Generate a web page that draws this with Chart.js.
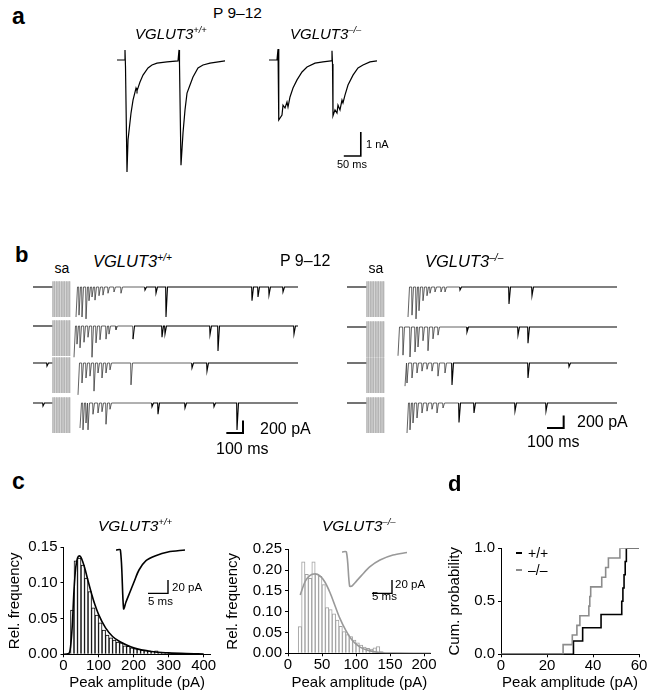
<!DOCTYPE html>
<html>
<head>
<meta charset="utf-8">
<title>VGLUT3 EPSCs</title>
<script src="https://cdn.jsdelivr.net/npm/chart.js@4.4.1/dist/chart.umd.min.js"></script>
<style>
  html, body { margin: 0; padding: 0; background: #fff; }
  #fig { position: relative; width: 652px; height: 699px; overflow: hidden;
         font-family: "Liberation Sans", Arial, Helvetica, sans-serif; color: #000; }
  #fig canvas { position: absolute; }
  .lbl { position: absolute; white-space: nowrap; line-height: 1; }
  .lbl sup { font-size: 62%; vertical-align: 0.6em; line-height: 0; }
  .key { position: absolute; width: 6px; height: 2px; }
</style>
</head>
<body>
<div id="fig">
  <canvas id="aWT" width="122" height="140" style="left:110px;top:40px"></canvas>
  <canvas id="aKO" width="130" height="140" style="left:262px;top:40px"></canvas>

  <canvas id="bWT1" width="276" height="44" style="left:28px;top:278px"></canvas>
  <canvas id="bWT2" width="276" height="44" style="left:28px;top:317px"></canvas>
  <canvas id="bWT3" width="276" height="44" style="left:28px;top:354px"></canvas>
  <canvas id="bWT4" width="276" height="44" style="left:28px;top:394px"></canvas>
  <canvas id="bKO1" width="282" height="44" style="left:342px;top:278px"></canvas>
  <canvas id="bKO2" width="282" height="44" style="left:342px;top:318px"></canvas>
  <canvas id="bKO3" width="282" height="44" style="left:342px;top:354px"></canvas>
  <canvas id="bKO4" width="282" height="44" style="left:342px;top:394px"></canvas>

  <canvas id="cWT" width="220" height="199" style="left:0px;top:500px"></canvas>
  <canvas id="cKO" width="222" height="199" style="left:220px;top:500px"></canvas>
  <canvas id="insWT" width="100" height="75" style="left:110px;top:540px"></canvas>
  <canvas id="insKO" width="100" height="75" style="left:336px;top:540px"></canvas>
  <canvas id="dCum" width="212" height="199" style="left:440px;top:500px"></canvas>
</div>
<script>
// ---------- data ----------
// panel a: evoked EPSC pairs, [time ms, current nA]
const evokedWT = [[0,0],[20.6,0],[23.5,0.42],[25,-0.29],[29.4,-4.67],[32.4,-3.33],[41.2,-2.21],[47.1,-1.67],
  [55.9,-1.17],[58.8,-1.29],[67.6,-0.92],[76.5,-0.63],[91.2,-0.33],[102.9,-0.21],[117.6,-0.13],[147,-0.08],
  [179.4,-0.04],[182.4,0.42],[183.8,-0.17],[188.2,-4.38],[194.1,-3.04],[200,-2.08],[205.9,-1.38],[214.7,-1.04],
  [223.5,-0.71],[238.2,-0.33],[252.9,-0.21],[273.5,-0.13],[317.6,-0.04]];
const evokedKO = [[0,0],[23.5,0],[26.5,0.46],[28,-0.2],[29.4,-2.5],[38.2,-2.29],[41.2,-1.88],[47.1,-2.0],
  [52.9,-1.75],[55.9,-1.96],[61.8,-1.54],[70.6,-1.17],[82.4,-0.83],[97.1,-0.5],[111.8,-0.29],[135.3,-0.13],
  [158.8,-0.08],[182.4,-0.04],[185.3,0.38],[186.8,-0.17],[188.2,-2.33],[194.1,-2.08],[200,-2.21],[202.9,-1.88],
  [208.8,-2.08],[214.7,-1.67],[217.6,-1.79],[223.5,-1.46],[232.4,-1.04],[247.1,-0.63],[261.8,-0.33],
  [276.5,-0.21],[297,-0.08],[317.6,-0.04]];

// panel b: stimulus artifact times (ms) and spontaneous events per sweep, [time ms, amplitude pA]
const stimTimes = [120, 130, 140, 150, 160, 170, 180, 190, 200, 210, 220];
const wtRow1 = [[258,-480],[276,-450],[294,-480],[318,-510],[336,-220],[354,-160],[372,-210],[396,-140],[420,-130],
  [450,-100],[486,-80],[528,-100],[672,-50],[738,-100],[798,-480],[1314,-220],[1350,-160],[1416,-130],[1500,-80]];
const wtRow2 = [[246,-500],[264,-290],[282,-350],[306,-260],[330,-180],[354,-500],[378,-270],[402,-220],[438,-210],
  [456,-130],[498,-60],[600,-210],[774,-180],[792,-130],[1062,-140],[1110,-400],[1566,-130]];
const wtRow3 = [[84,-50],[270,-510],[294,-320],[318,-240],[342,-210],[366,-450],[390,-160],[414,-240],[438,-160],
  [462,-110],[588,-350],[954,-80],[1044,-130]];
const wtRow4 = [[60,-50],[282,-400],[300,-430],[318,-320],[330,-430],[360,-180],[390,-160],[414,-140],[438,-340],
  [462,-100],[714,-60],[750,-180],[912,-80],[1086,-60],[1224,-430]];
const koRow1 = [[366,-480],[390,-450],[414,-510],[432,-380],[456,-220],[480,-140],[498,-100],[528,-80],[564,-80],
  [588,-80],[678,-50],[972,-270],[1110,-140]];
const koRow2 = [[306,-460],[336,-450],[378,-480],[408,-400],[426,-320],[456,-220],[486,-380],[516,-190],[546,-130],
  [720,-80],[1026,-130],[1086,-260]];
const koRow3 = [[348,-370],[360,-320],[390,-240],[420,-160],[450,-130],[480,-100],[510,-130],[546,-210],[588,-160],
  [630,-350],[1086,-240],[1332,-60]];
const koRow4 = [[360,-480],[378,-430],[396,-320],[420,-240],[450,-160],[480,-130],[510,-100],[540,-160],[576,-80],
  [672,-310],[762,-160],[1008,-130],[1194,-130]];
const sweepEndWT = 1590;
const sweepEndKO = 1620;

// panel c: amplitude histograms (pA bin centres, relative frequency) and fits
const binsWT = [25,35,45,55,65,75,85,95,105,115,125,135,145,155,165,175,185,195,205,215,225,235,245,255,265,
  275,285,295,305,315,325];
const freqWT = [0.062,0.131,0.135,0.125,0.107,0.088,0.065,0.055,0.044,0.034,0.027,0.023,0.020,0.017,0.016,0.012,
  0.011,0.009,0.008,0.007,0.006,0.006,0.005,0.004,0.005,0.003,0.002,0.002,0.001,0.001,0.001];
const fitWT = [[0,0],[15,0.001],[20,0.01],[25,0.04],[30,0.09],[35,0.122],[40,0.135],[45,0.138],[50,0.136],
  [60,0.122],[70,0.103],[80,0.085],[90,0.069],[100,0.056],[120,0.037],[140,0.025],[160,0.018],[180,0.013],
  [200,0.009],[250,0.004],[300,0.002],[350,0.001],[400,0.0005]];
const binsKO = [17.5,22.5,27.5,32.5,37.5,42.5,47.5,52.5,57.5,62.5,67.5,72.5,77.5,82.5,87.5,92.5,97.5,102.5,107.5,
  112.5,117.5,122.5,127.5,132.5,137.5];
const freqKO = [0.064,0.22,0.19,0.18,0.22,0.19,0.185,0.165,0.11,0.105,0.095,0.08,0.065,0.052,0.045,0.04,0.032,
  0.025,0.02,0.015,0.012,0.01,0.013,0.016,0.004];
const fitKO = [[18,0.14],[25,0.172],[32,0.187],[40,0.191],[47,0.186],[54,0.172],[62,0.145],[69,0.115],[76,0.085],
  [85,0.055],[95,0.03],[106,0.015],[118,0.007],[135,0.002],[160,0.0005],[210,0]];
// averaged mEPSC insets, [time ms, current pA]
const insetWT = [[0,0],[1.1,0],[1.9,-88],[2.5,-78],[3.5,-63],[4.5,-48],[5.75,-30],[7.5,-16],[9.75,-9],[13,-3],[17.25,0]];
const insetKO = [[0,0],[1.1,0],[1.9,-51],[2.5,-51],[3.25,-46],[4.9,-35],[7,-22],[9.5,-12],[12.75,-4.5],[16.25,-0.75]];

// panel d: mean peak amplitude per cell (pA)
const cellAmpWT = [31.5, 35.5, 43.5, 52.5, 53, 53.5, 54, 54.5];
const cellAmpKO = [27, 31, 33, 34.3, 38.2, 38.6, 39, 43.8, 45.5, 46.7, 51.7];

// tick labels
const ticksWTx = [0, 100, 200, 300, 400];
const ticksWTy = [0, 0.05, 0.10, 0.15];
const ticksKOx = [0, 50, 100, 150, 200];
const ticksKOy = [0, 0.05, 0.10, 0.15, 0.20, 0.25];
const ticksDx = [0, 20, 40, 60];
const ticksDy = [0, 0.5, 1.0];

// ---------- helpers ----------
const FONT = '"Liberation Sans", Arial, Helvetica, sans-serif';
const GREY = '#999999';
Chart.defaults.font.family = FONT;
Chart.defaults.color = '#000';

const pts = arr => arr.map(([x, y]) => ({ x, y }));

function line(data, color, width, extra) {
  return Object.assign({ type: 'line', data, borderColor: color, borderWidth: width, pointRadius: 0,
    tension: 0, spanGaps: false, fill: false }, extra || {});
}

// scale bar as an L: horizontal [t0,t1] at y0, vertical at t1 from y0 to y1
function scaleBar(t0, t1, y0, y1, width) {
  return line([{ x: t0, y: y0 }, { x: t1, y: y0 }, { x: t1, y: y1 }], '#000', width);
}

function traceChart(id, datasets, xr, yr) {
  return new Chart(document.getElementById(id), {
    type: 'line',
    data: { datasets },
    options: {
      responsive: false, animation: false, events: [],
      layout: { padding: 0 },
      plugins: { legend: { display: false }, tooltip: { enabled: false } },
      scales: {
        x: { type: 'linear', display: false, min: xr[0], max: xr[1] },
        y: { type: 'linear', display: false, min: yr[0], max: yr[1] }
      }
    }
  });
}

function buildSweep(events, tEnd) {
  const out = [{ x: 0, y: 0 }];
  const pre = events.filter(e => e[0] < stimTimes[0]);
  const post = events.filter(e => e[0] > stimTimes[stimTimes.length - 1]);
  pre.forEach(([t, a]) => out.push({ x: t - 2, y: 0 }, { x: t, y: a }, { x: t + 9, y: 0 }));
  out.push({ x: stimTimes[0], y: 0 }, { x: stimTimes[0], y: null });
  post.forEach(([t, a], i) => {
    const next = i + 1 < post.length ? post[i + 1][0] : tEnd;
    if (i > 0) out.push({ x: t - 2, y: 0 });
    out.push({ x: t, y: a }, { x: Math.min(t + 9, next - 3), y: 0 });
  });
  out.push({ x: tEnd, y: 0 });
  return out;
}

function stimLines(top, bottom) {
  const out = [];
  stimTimes.forEach(t => out.push({ x: t, y: top }, { x: t, y: bottom }, { x: t, y: null }));
  return out;
}

// sweep drawn darker on the baseline, lighter inside the post-stimulus burst
function sweepSet(data) {
  return line(data, '#000', 1.1, {
    segment: { borderColor: c => (c.p0.parsed.x < 600 && c.p0.parsed.x > 220) ? '#3a3a3a' : undefined,
               borderWidth: c => (c.p0.parsed.x < 600 && c.p0.parsed.x > 220) ? 0.8 : undefined }
  });
}

function axis(o) {
  return {
    type: 'linear', min: o.min, max: o.max, offset: false,
    afterBuildTicks: s => { s.ticks = o.ticks.map(v => ({ value: v })); },
    afterFit: s => { if (o.isX) s.height = o.size; else s.width = o.size; },
    ticks: { font: { family: FONT, size: 15 }, color: '#000', padding: o.isX ? 0 : 3,
             maxRotation: 0, autoSkip: false, callback: o.fmt },
    grid: { display: true, drawOnChartArea: false, drawTicks: true, tickLength: 3, color: '#000', offset: false },
    border: { display: true, color: '#000', width: 1 },
    title: { display: true, text: o.title, font: { family: FONT, size: 15 }, color: '#000',
             padding: o.isX ? { top: 0, bottom: 7 } : { top: o.titlePad, bottom: 0 } }
  };
}

function axisChart(id, type, datasets, pad, xAxis, yAxis) {
  return new Chart(document.getElementById(id), {
    type,
    data: { datasets },
    options: {
      responsive: false, animation: false, events: [],
      layout: { padding: { top: pad.top, right: pad.right, left: 0, bottom: 0 } },
      plugins: { legend: { display: false }, tooltip: { enabled: false } },
      scales: { x: xAxis, y: yAxis }
    }
  });
}

// ---------- panel a ----------
traceChart('aWT', [line(pts(evokedWT), '#000', 1.2)], [-20.6, 338.2], [-5.0, 0.833]);
traceChart('aKO', [line(pts(evokedKO), '#000', 1.2), scaleBar(220, 270, -4, -3, 1.6)], [-20.6, 361.8], [-5.0, 0.833]);

// ---------- panel b ----------
const bY = [-560, 144];
[[wtRow1, 'bWT1'], [wtRow2, 'bWT2'], [wtRow3, 'bWT3'], [wtRow4, 'bWT4']].forEach(([ev, id], i) => {
  const ds = [line(stimLines(90, -480), '#b4b4b4', 0.8), sweepSet(buildSweep(ev, sweepEndWT))];
  if (i === 3) ds.push(scaleBar(1160, 1260, -480, -280, 2));
  traceChart(id, ds, [-30, 1626], bY);
});
[[koRow1, 'bKO1'], [koRow2, 'bKO2'], [koRow3, 'bKO3'], [koRow4, 'bKO4']].forEach(([ev, id], i) => {
  const ds = [line(stimLines(90, -480), '#b4b4b4', 0.8), sweepSet(buildSweep(ev, sweepEndKO))];
  if (i === 3) ds.push(scaleBar(1200, 1300, -400, -200, 2));
  traceChart(id, ds, [-30, 1662], bY);
});

// ---------- panel c ----------
function histSets(bins, freq, fit, color, barColor) {
  return [
    line(pts(fit), color, 1.6, { order: 0, cubicInterpolationMode: 'monotone' }),
    { type: 'bar', order: 1, data: bins.map((b, i) => ({ x: b, y: freq[i] })),
      backgroundColor: '#fff', borderColor: barColor, borderWidth: 1,
      barPercentage: 1, categoryPercentage: 1 }
  ];
}
axisChart('cWT', 'bar', histSets(binsWT, freqWT, fitWT, '#000', '#000'),
  { top: 47.3, right: 9.3 },
  axis({ isX: true, min: 0, max: 420, ticks: ticksWTx, size: 44.7, title: 'Peak amplitude (pA)', fmt: v => String(v) }),
  axis({ min: 0, max: 0.15, ticks: ticksWTy, size: 63.5, title: 'Rel. frequency', titlePad: 6, fmt: v => v.toFixed(2) }));
axisChart('cKO', 'bar', histSets(binsKO, freqKO, fitKO, GREY, '#a0a0a0'),
  { top: 49.3, right: 11.2 },
  axis({ isX: true, min: 0, max: 210, ticks: ticksKOx, size: 45.7, title: 'Peak amplitude (pA)', fmt: v => String(v) }),
  axis({ min: 0, max: 0.25, ticks: ticksKOy, size: 68, title: 'Rel. frequency', titlePad: 4, fmt: v => v.toFixed(2) }));

traceChart('insWT', [line(pts(insetWT), '#000', 1.6, { tension: 0.3 }), scaleBar(8, 13, -65, -45, 1.4)],
  [-1.5, 23.5], [-97.5, 15]);
traceChart('insKO', [line(pts(insetKO), GREY, 1.6, { tension: 0.3 }), scaleBar(7.5, 12.5, -62, -42, 1.4)],
  [-1.5, 23.5], [-94.5, 18]);

// ---------- panel d ----------
function cumulative(vals, xMax) {
  const s = vals.slice().sort((a, b) => a - b);
  const out = [{ x: 0, y: 0 }];
  s.forEach((v, i) => out.push({ x: v, y: (i + 1) / s.length }));
  out.push({ x: xMax, y: 1 });
  return out;
}
axisChart('dCum', 'line', [
    line(cumulative(cellAmpWT, 60), '#000', 1.6, { stepped: 'before', order: 1 }),
    line(cumulative(cellAmpKO, 60), '#8c8c8c', 1.6, { stepped: 'before', order: 0 })
  ],
  { top: 48.3, right: 13 },
  axis({ isX: true, min: 0, max: 60, ticks: ticksDx, size: 44.7, title: 'Peak amplitude (pA)', fmt: v => String(v) }),
  axis({ min: 0, max: 1, ticks: ticksDy, size: 61, title: 'Cum. probability', titlePad: 6, fmt: v => v.toFixed(1) }));

// ---------- text ----------
const fig = document.getElementById('fig');
function label(html, x, base, size, o) {
  o = o || {};
  const d = document.createElement('div');
  d.className = 'lbl';
  d.innerHTML = html;
  d.style.fontSize = size + 'px';
  d.style.left = x + 'px';
  d.style.top = (base - 0.85 * size) + 'px';
  if (o.bold) d.style.fontWeight = 'bold';
  if (o.italic) d.style.fontStyle = 'italic';
  if (o.center) d.style.transform = 'translateX(-50%)';
  fig.appendChild(d);
}
const WT = 'VGLUT3<sup>+/+</sup>';
const KO = 'VGLUT3<sup>–/–</sup>';

label('a', 12, 25, 23, { bold: true });
label('P 9–12', 237.5, 18, 15.5, { center: true });
label(WT, 135, 39, 15, { italic: true });
label(KO, 290, 39, 15, { italic: true });
label('1 nA', 366, 148, 11);
label('50 ms', 337, 168, 11);

label('b', 15, 263, 22, { bold: true });
label('sa', 62, 273, 14, { center: true });
label('sa', 376, 273, 14, { center: true });
label(WT, 93, 267, 16.5, { italic: true });
label('P 9–12', 280, 267, 16);
label(KO, 425, 267, 16.5, { italic: true });
label('200 pA', 260, 435, 16);
label('100 ms', 216, 455, 16);
label('200 pA', 577, 428, 16);
label('100 ms', 527, 448, 16);

label('c', 12, 490, 23, { bold: true });
label(WT, 98, 531, 15.5, { italic: true });
label(KO, 322, 531, 15.5, { italic: true });
label('20 pA', 172, 592, 11.5);
label('5 ms', 148, 606, 11.5);
label('20 pA', 395, 589, 11.5);
label('5 ms', 372, 601, 11.5);

label('d', 448, 492, 22, { bold: true });
label('+/+', 528, 558, 14);
label('–/–', 528, 575, 14);
[['#000', 553], ['#8c8c8c', 570]].forEach(([c, y]) => {
  const k = document.createElement('div');
  k.className = 'key';
  k.style.background = c;
  k.style.left = '516px';
  k.style.top = (y - 1) + 'px';
  fig.appendChild(k);
});
</script>
</body>
</html>
